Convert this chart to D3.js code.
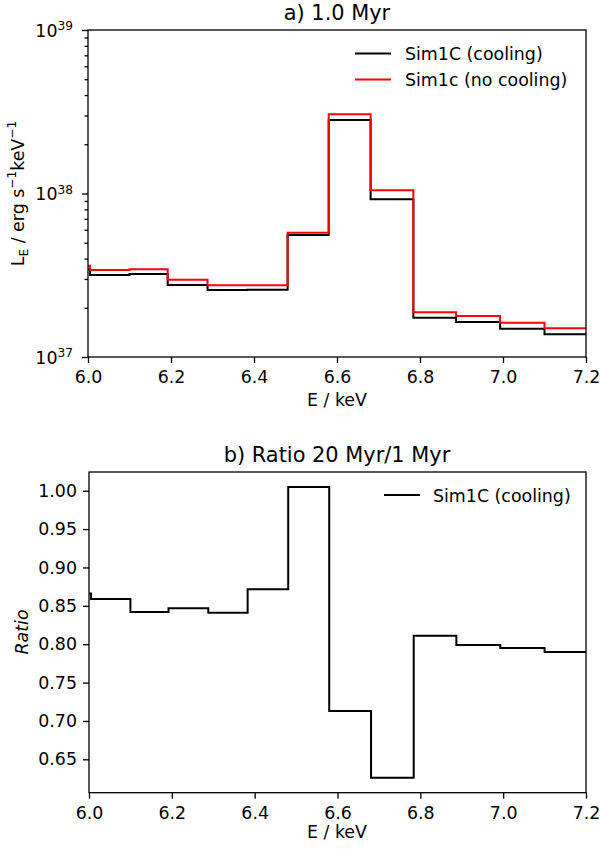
<!DOCTYPE html>
<html>
<head>
<meta charset="utf-8">
<script src="https://cdn.jsdelivr.net/npm/d3@7"></script>
<style>
  body { margin: 0; background: #fff; }
  text { font-family: "DejaVu Sans", sans-serif; }
</style>
</head>
<body>
<div id="chart"></div>
<script>
// bin edges (keV) shared by both panels
const edges = [6.0, 6.005, 6.1, 6.192, 6.288, 6.383, 6.481, 6.58, 6.681, 6.784, 6.887, 6.993, 7.1, 7.2];

// panel a) luminosity per bin, erg/s/keV
const coolingLum = [3.44e37, 3.17e37, 3.22e37, 2.76e37, 2.57e37, 2.58e37, 5.57e37, 2.815e38, 9.21e37, 1.74e37, 1.637e37, 1.49e37, 1.377e37];
const noCoolingLum = [3.62e37, 3.40e37, 3.44e37, 2.97e37, 2.745e37, 2.745e37, 5.76e37, 3.05e38, 1.046e38, 1.877e37, 1.781e37, 1.621e37, 1.498e37];

// panel b) ratio 20 Myr / 1 Myr
const ratio = [0.866, 0.859, 0.842, 0.847, 0.841, 0.8715, 1.005, 0.713, 0.626, 0.811, 0.799, 0.795, 0.790];

const xTicks = [6.0, 6.2, 6.4, 6.6, 6.8, 7.0, 7.2];
const ratioTicks = [0.65, 0.70, 0.75, 0.80, 0.85, 0.90, 0.95, 1.00];
const logMajor = [37, 38, 39];

const W = 600, H = 851;
const fs = 17.4, titleFs = 20.9;

const svg = d3.select("#chart").append("svg")
    .attr("width", W)
    .attr("height", H);

function toSteps(vals) {
    const pts = vals.map((v, i) => [edges[i], v]);
    pts.push([edges[edges.length - 1], vals[vals.length - 1]]);
    return pts;
}

function styleAxis(g) {
    g.select(".domain").remove();
    g.selectAll("line").attr("stroke", "#000").attr("stroke-width", 1.3);
    g.selectAll("text").attr("font-size", fs).attr("fill", "#000")
        .attr("font-family", "DejaVu Sans");
}

function frame(x0, x1, y0, y1) {
    svg.append("rect")
        .attr("x", x0).attr("y", y0)
        .attr("width", x1 - x0).attr("height", y1 - y0)
        .attr("fill", "none").attr("stroke", "#000").attr("stroke-width", 1.3);
}

// ---------- panel a ----------
const xA = d3.scaleLinear().domain([6.0, 7.2]).range([88, 586]);
const yA = d3.scaleLog().domain([1e37, 1e39]).range([357, 30]);

svg.append("g")
    .attr("transform", `translate(0, 357)`)
    .call(d3.axisBottom(xA).tickValues(xTicks).tickFormat(d3.format(".1f")).tickSize(6).tickPadding(7.5))
    .call(styleAxis);

// log y axis: minor ticks
const minor = [];
for (const e of [37, 38]) for (let m = 2; m <= 9; m++) minor.push(m * Math.pow(10, e));
svg.append("g")
    .attr("transform", `translate(88, 0)`)
    .call(d3.axisLeft(yA).tickValues(minor).tickFormat("").tickSize(3.5))
    .call(styleAxis);

const yAxA = svg.append("g")
    .attr("transform", `translate(88, 0)`)
    .call(d3.axisLeft(yA).tickValues(logMajor.map(e => Math.pow(10, e))).tickFormat("").tickSize(6))
    .call(styleAxis);

yAxA.selectAll(".tick text").remove();
yAxA.selectAll(".tick").each(function (d) {
    const t = d3.select(this).append("text")
        .attr("x", -15)
        .attr("y", 6)
        .attr("text-anchor", "end")
        .attr("font-size", fs)
        .attr("fill", "#000");
    t.append("tspan").text("10");
    t.append("tspan").attr("font-size", fs * 0.7).attr("dy", -6.5).text(Math.round(Math.log10(d)));
});

const lineA = d3.line().curve(d3.curveStepAfter).x(d => xA(d[0])).y(d => yA(d[1]));

svg.append("path").datum(toSteps(coolingLum))
    .attr("fill", "none").attr("stroke", "#000").attr("stroke-width", 2).attr("d", lineA);
svg.append("path").datum(toSteps(noCoolingLum))
    .attr("fill", "none").attr("stroke", "#ff0000").attr("stroke-width", 2).attr("d", lineA);

frame(88, 586, 30, 357);

svg.append("text")
    .attr("x", 337).attr("y", 20)
    .attr("text-anchor", "middle").attr("font-size", titleFs)
    .text("a) 1.0 Myr");

svg.append("text")
    .attr("x", 337).attr("y", 406)
    .attr("text-anchor", "middle").attr("font-size", fs)
    .text("E / keV");

const yl = svg.append("text")
    .attr("transform", "translate(24, 193.5) rotate(-90)")
    .attr("text-anchor", "middle").attr("font-size", fs);
yl.append("tspan").text("L");
yl.append("tspan").attr("font-size", fs * 0.7).attr("dy", 4).text("E");
yl.append("tspan").attr("dy", -4).text(" / erg s");
yl.append("tspan").attr("font-size", fs * 0.7).attr("dy", -8).text("\u22121");
yl.append("tspan").attr("dy", 8).text("keV");
yl.append("tspan").attr("font-size", fs * 0.7).attr("dy", -8).text("\u22121");

// legend a
const legA = [
    { label: "Sim1C (cooling)", color: "#000", y: 53.5 },
    { label: "Sim1c (no cooling)", color: "#ff0000", y: 79.5 }
];
legA.forEach(d => {
    svg.append("line").attr("x1", 355).attr("x2", 391).attr("y1", d.y).attr("y2", d.y)
        .attr("stroke", d.color).attr("stroke-width", 2);
    svg.append("text").attr("x", 405).attr("y", d.y + 6.5)
        .attr("font-size", fs).text(d.label);
});

// ---------- panel b ----------
const xB = d3.scaleLinear().domain([6.0, 7.2]).range([89, 586]);
const yB = d3.scaleLinear().domain([0.6065, 1.0244]).range([792.7, 472]);

svg.append("g")
    .attr("transform", `translate(0, 792.7)`)
    .call(d3.axisBottom(xB).tickValues(xTicks).tickFormat(d3.format(".1f")).tickSize(6).tickPadding(7.5))
    .call(styleAxis);

svg.append("g")
    .attr("transform", `translate(89, 0)`)
    .call(d3.axisLeft(yB).tickValues(ratioTicks).tickFormat(d3.format(".2f")).tickSize(6).tickPadding(6))
    .call(styleAxis);

const lineB = d3.line().curve(d3.curveStepAfter).x(d => xB(d[0])).y(d => yB(d[1]));

svg.append("path").datum(toSteps(ratio))
    .attr("fill", "none").attr("stroke", "#000").attr("stroke-width", 2).attr("d", lineB);

frame(89, 586, 472, 792.7);

svg.append("text")
    .attr("x", 337).attr("y", 462)
    .attr("text-anchor", "middle").attr("font-size", titleFs)
    .text("b) Ratio 20 Myr/1 Myr");

svg.append("text")
    .attr("x", 337).attr("y", 838)
    .attr("text-anchor", "middle").attr("font-size", fs)
    .text("E / keV");

svg.append("text")
    .attr("transform", "translate(28, 632) rotate(-90)")
    .attr("text-anchor", "middle").attr("font-size", fs)
    .attr("font-style", "italic")
    .text("Ratio");

svg.append("line").attr("x1", 384).attr("x2", 420).attr("y1", 495).attr("y2", 495)
    .attr("stroke", "#000").attr("stroke-width", 2);
svg.append("text").attr("x", 433).attr("y", 501.5)
    .attr("font-size", fs).text("Sim1C (cooling)");
</script>
</body>
</html>
